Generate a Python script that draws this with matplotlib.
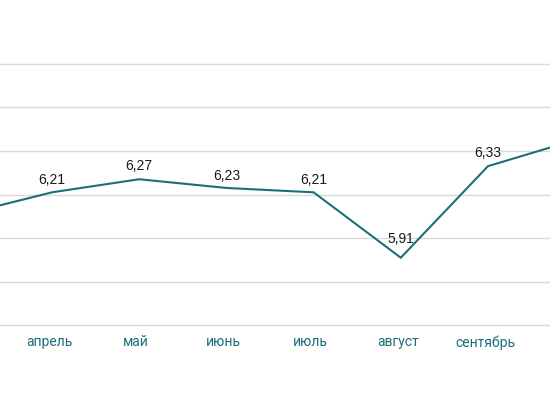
import matplotlib
matplotlib.use("Agg")
import matplotlib.pyplot as plt

months = ["март", "апрель", "май", "июнь", "июль", "август", "сентябрь", "октябрь"]
values = [6.11, 6.21, 6.27, 6.23, 6.21, 5.91, 6.33, 6.45]
value_labels = ["6,11", "6,21", "6,27", "6,23", "6,21", "5,91", "6,33", "6,45"]
grid_values = [5.6, 5.8, 6.0, 6.2, 6.4, 6.6, 6.8]

label_offsets_px = [13, 13, 14, 13, 13, 20, 14, 13]

DPI = 100
fig = plt.figure(figsize=(5.5, 4.1), dpi=DPI)
fig.patch.set_facecolor("white")
ax = fig.add_axes([0, 0, 1, 1])
ax.set_axis_off()

step = 87.2
x0 = 52.0
ax.set_xlim((0 - (x0 - step)) / step, (550 - (x0 - step)) / step)
ppu = 218.0
y_ref = 195.5
ax.set_ylim(6.2 - (410 - y_ref) / ppu, 6.2 + y_ref / ppu)

for g in grid_values:
    ax.axhline(g, color="#d9d9d9", lw=1.0, zorder=1)

xs = list(range(len(months)))
ax.plot(xs, values, color="#1b6f78", lw=1.5, zorder=3, solid_joinstyle="miter")

for x, v, lab, off in zip(xs, values, value_labels, label_offsets_px):
    ax.annotate(lab, (x, v), xytext=(0, off * 72 / DPI), textcoords="offset points",
                ha="center", va="center", fontsize=10, color="#1a1a1a",
                family=["Liberation Sans", "DejaVu Sans"], zorder=4)

for x, m in zip(xs, months):
    ax.annotate(m, (x, grid_values[0]), xytext=(-3 * 72 / DPI, -16 * 72 / DPI),
                textcoords="offset points", ha="center", va="center",
                fontsize=10, color="#1d6f77", family=["Roboto", "DejaVu Sans"])

fig.savefig("out.png", dpi=DPI, facecolor="white")
